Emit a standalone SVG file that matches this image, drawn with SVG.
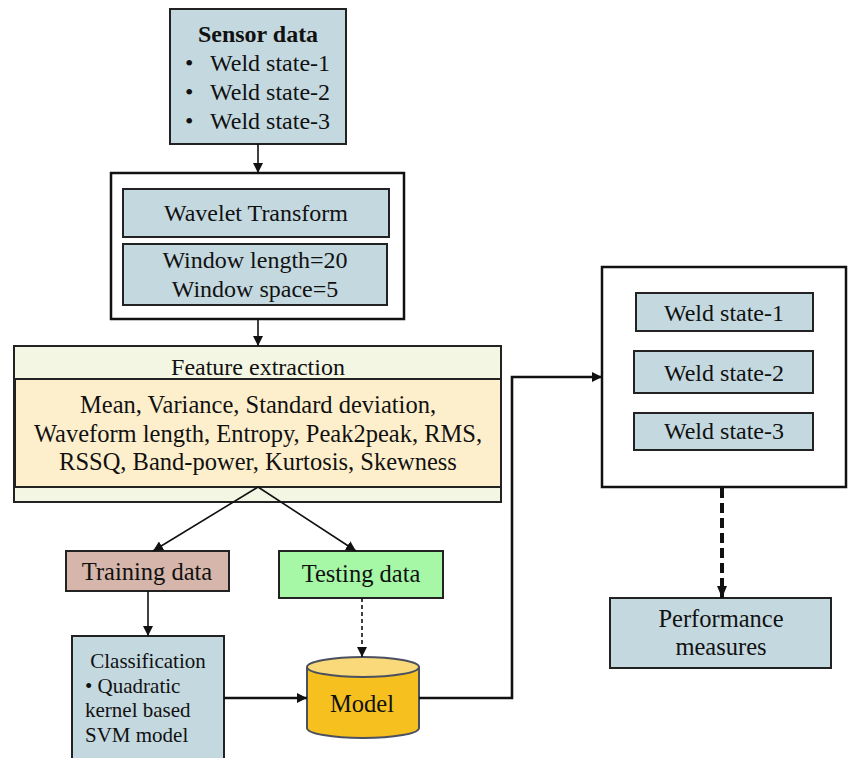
<svg xmlns="http://www.w3.org/2000/svg" width="848" height="758" viewBox="0 0 848 758">
<defs>
<style>
text{font-family:"Liberation Serif","Times New Roman",serif;fill:#111;}
.t{font-size:24px;}
.f{font-size:24.5px;}
.c{text-anchor:middle;}
.blue{fill:#c4d8df;stroke:#222;stroke-width:2;}
.frame{fill:#fff;stroke:#111;stroke-width:2.5;}
.ln{fill:none;stroke:#111;stroke-width:1.6;}
.thick{fill:none;stroke:#111;stroke-width:2.6;}
</style>
<marker id="ah" viewBox="0 0 10 10" refX="10" refY="5" markerWidth="10" markerHeight="10" markerUnits="userSpaceOnUse" orient="auto">
<path d="M0,0 L10,5 L0,10 z" fill="#111"/>
</marker>
</defs>
<rect width="848" height="758" fill="#fff"/>

<g id="sensor">
<rect class="blue" x="170" y="9" width="176" height="135"/>
<text class="t c" x="258" y="42" font-weight="bold">Sensor data</text>
<text class="t" x="185" y="71">•</text><text class="t" x="210" y="71">Weld state-1</text>
<text class="t" x="185" y="100">•</text><text class="t" x="210" y="100">Weld state-2</text>
<text class="t" x="185" y="129">•</text><text class="t" x="210" y="129">Weld state-3</text>
</g>

<g id="wavelet">
<rect class="frame" x="111" y="173" width="293" height="146"/>
<rect class="blue" x="123" y="189" width="266" height="48"/>
<text class="t c" x="256" y="221">Wavelet Transform</text>
<rect class="blue" x="123" y="244" width="264" height="61"/>
<text class="t c" x="255" y="268">Window length=20</text>
<text class="t c" x="255" y="297">Window space=5</text>
</g>

<g id="feature">
<rect x="14" y="346" width="487" height="156" fill="#f4f6e4" stroke="#222" stroke-width="2"/>
<text class="t c" x="258" y="375">Feature extraction</text>
<rect x="15" y="379" width="486" height="108" fill="#feefcc" stroke="#222" stroke-width="2"/>
<text class="f c" x="258" y="413">Mean, Variance, Standard deviation,</text>
<text class="f c" x="258" y="442">Waveform length, Entropy, Peak2peak, RMS,</text>
<text class="f c" x="258" y="470">RSSQ, Band-power, Kurtosis, Skewness</text>
</g>

<g id="training">
<rect x="66" y="551" width="163" height="40" fill="#d6b6aa" stroke="#222" stroke-width="2"/>
<text class="f c" x="147" y="580">Training data</text>
</g>

<g id="testing">
<rect x="279" y="551" width="164" height="47" fill="#a6f7a6" stroke="#222" stroke-width="2"/>
<text class="f c" x="361" y="582">Testing data</text>
</g>

<g id="classification">
<rect class="blue" x="72" y="636" width="152" height="130"/>
<text x="148" y="668" font-size="21" class="c">Classification</text>
<text x="85" y="693" font-size="21">• Quadratic</text>
<text x="85" y="717" font-size="21">kernel based</text>
<text x="85" y="742" font-size="21">SVM model</text>
</g>

<g id="model">
<path d="M307,667 L307,728 A56,10 0 0 0 419,728 L419,667" fill="#f6c11f" stroke="#4a5060" stroke-width="2"/>
<ellipse cx="363" cy="667" rx="56" ry="10" fill="#f9d97a" stroke="#4a5060" stroke-width="2"/>
<text class="f c" x="362" y="712">Model</text>
</g>

<g id="states">
<rect class="frame" x="602" y="267" width="244" height="220"/>
<rect class="blue" x="636" y="293" width="177" height="38"/>
<text class="t c" x="724" y="321">Weld state-1</text>
<rect class="blue" x="634" y="351" width="179" height="42"/>
<text class="t c" x="724" y="381">Weld state-2</text>
<rect class="blue" x="634" y="413" width="179" height="37"/>
<text class="t c" x="724" y="439">Weld state-3</text>
</g>

<g id="performance">
<rect class="blue" x="610" y="598" width="221" height="70"/>
<text class="f c" x="721" y="627">Performance</text>
<text class="f c" x="721" y="655">measures</text>
</g>

<g id="connectors">
<line class="ln" x1="258" y1="144" x2="258" y2="173" marker-end="url(#ah)"/>
<line class="ln" x1="258" y1="319" x2="258" y2="346" marker-end="url(#ah)"/>
<line class="ln" x1="258" y1="487" x2="153" y2="551" marker-end="url(#ah)"/>
<line class="ln" x1="258" y1="487" x2="356" y2="551" marker-end="url(#ah)"/>
<line class="ln" x1="148" y1="591" x2="148" y2="636" marker-end="url(#ah)"/>
<line class="ln" x1="362" y1="598" x2="362" y2="657" stroke-dasharray="4,3" marker-end="url(#ah)"/>
<line class="thick" x1="224" y1="698" x2="307" y2="698" marker-end="url(#ah)"/>
<polyline class="thick" points="419,698 512,698 512,377 602,377" marker-end="url(#ah)"/>
<line x1="722" y1="488" x2="722" y2="598" stroke="#111" stroke-width="4" stroke-dasharray="10,5" fill="none"/>
<path d="M717,586 L727,586 L722,598 z" fill="#111"/>
</g>
</svg>
